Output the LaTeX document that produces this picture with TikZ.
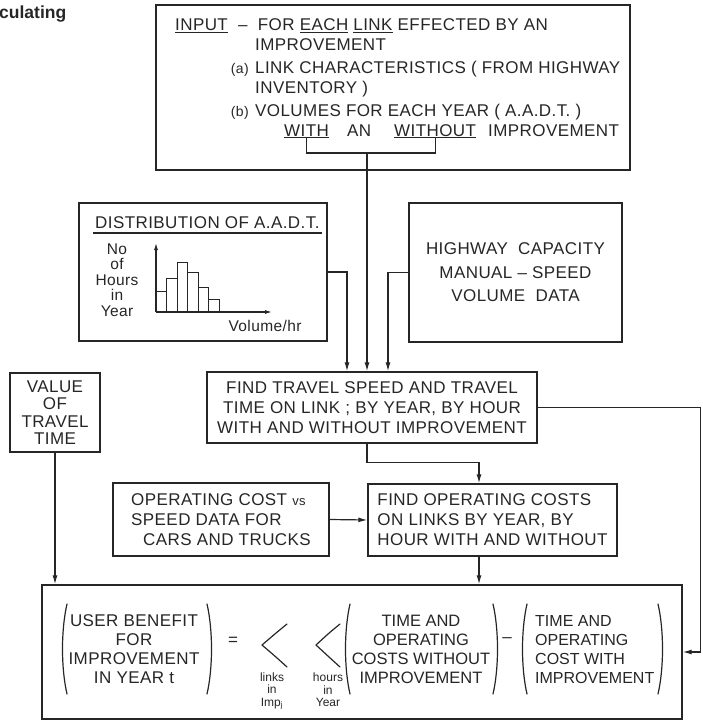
\documentclass[tikz,border=0pt]{standalone}
\usepackage{fontspec}
\setmainfont{Liberation Sans}
\newfontfamily\lettering{Liberation Sans}[LetterSpace=2.5]
\usetikzlibrary{arrows.meta,positioning,calc}
\definecolor{ink}{HTML}{262626}

\begin{document}
\begin{tikzpicture}[x=1pt,y=-1pt,
  box/.style={draw=ink,line width=1.4pt,inner sep=0pt},
  caps/.style={text=ink,font=\lettering\fontsize{17}{20}\selectfont,
    inner sep=0pt},
  sublabel/.style={text=ink,font=\lettering\fontsize{15.5}{15.5}\selectfont,
    inner sep=0pt,align=center},
  idx/.style={text=ink,font=\fontsize{12}{12.5}\selectfont,inner sep=0pt,
    align=center},
  link/.style={draw=ink,line width=1.2pt},
  flow/.style={draw=ink,line width=1.2pt,-{Latex[length=9pt,width=5pt]}},
  axis/.style={draw=ink,line width=1.1pt,-{Latex[length=7pt,width=4pt]}},
  stroke/.style={draw=ink,line width=1.2pt,line cap=round,line join=round}
]
  \useasboundingbox (0,0) rectangle (702,725);

  \node[font=\fontsize{17.5}{20}\bfseries\selectfont,text=ink,inner sep=0pt,
    anchor=base west] (capfrag) at (-1,19) {culating};

  % input box
  \node[box,minimum width=474pt,minimum height=165pt] (input) at (393,87.5) {};
  \node[caps,anchor=base west] (in1) at (175,31)
    {\underline{INPUT} \ \textendash\ \ FOR \underline{EACH} \underline{LINK}
     EFFECTED BY AN};
  \node[caps,anchor=base west] (in2) at (255,51) {IMPROVEMENT};
  \node[caps,anchor=base east,font=\lettering\fontsize{14}{14}\selectfont] (ina)
    at (249,74) {(a)};
  \node[caps,anchor=base west] (in3) at (255,74)
    {LINK CHARACTERISTICS ( FROM HIGHWAY};
  \node[caps,anchor=base west] (in4) at (255,93) {INVENTORY )};
  \node[caps,anchor=base east,font=\lettering\fontsize{14}{14}\selectfont] (inb)
    at (249,116) {(b)};
  \node[caps,anchor=base west] (in5) at (255,116)
    {VOLUMES FOR EACH YEAR ( A.A.D.T. )};
  \node[caps,anchor=base west] (with) at (284,136) {\underline{WITH}};
  \node[caps,anchor=base west] (an) at (347,136) {AN};
  \node[caps,anchor=base west] (without) at (394,136) {\underline{WITHOUT}};
  \node[caps,anchor=base west] (withimp) at (488,136) {IMPROVEMENT};
  \coordinate (fork) at (367,153);
  \draw[link] (with.south) |- (fork) -| (without.south);

  % distribution of aadt
  \node[box,minimum width=248pt,minimum height=138pt] (dist) at (203,272) {};
  \node[caps,anchor=base west] (disttitle) at (95,228)
    {DISTRIBUTION OF A.A.D.T.};
  \draw[link] ($(disttitle.base west)+(-2,5)$) -- ($(disttitle.base east)+(2,5)$);
  \draw[axis] (156,312) -- (156,243);
  \draw[axis] (156,312) -- (272,312);
  \foreach \xa/\xb/\ht in {156/166/291,166/177/278,177/187/262,
      187/198/272,198/208/287,208/219/299}
    \draw[ink,line width=1pt] (\xa,312) rectangle (\xb,\ht);
  \node[sublabel] (hrs) at (117,280) {No\\of\\Hours\\in\\Year};
  \node[sublabel] (vol) at (265,326) {Volume/hr};

  % highway capacity manual
  \node[box,caps,align=center,minimum width=213pt,minimum height=139pt,
    font=\lettering\fontsize{17}{23.5}\selectfont] (hcm) at (515.5,272.5)
    {HIGHWAY \ CAPACITY\\MANUAL \textendash\ SPEED\\VOLUME \ DATA};

  % value of time
  \node[box,caps,align=center,minimum width=90pt,minimum height=79pt,
    font=\lettering\fontsize{17}{17.5}\selectfont] (value) at (55,412.5)
    {VALUE\\OF\\TRAVEL\\TIME};

  \node[box,caps,align=center,minimum width=330pt,minimum height=71pt]
    (travel) at (372,407.5)
    {FIND TRAVEL SPEED AND TRAVEL\\TIME ON LINK ; BY YEAR, BY HOUR\\
     WITH AND WITHOUT IMPROVEMENT};

  \node[box,caps,align=left,minimum width=216pt,minimum height=73pt]
    (opdata) at (221,519.5)
    {OPERATING COST {\fontsize{13}{13}\selectfont vs}\\SPEED DATA FOR\\
     \hspace*{12pt}CARS AND TRUCKS};
  \node[box,caps,align=left,minimum width=249pt,minimum height=72pt]
    (findop) at (492.5,520)
    {FIND OPERATING COSTS\\ON LINKS BY YEAR, BY\\HOUR WITH AND WITHOUT};

  % user benefit
  \node[box,minimum width=640pt,minimum height=134pt] (benefit) at (362,652) {};
  \node[caps,align=center,font=\lettering\fontsize{17}{19}\selectfont] (ubtext)
    at (134,649.5) {USER BENEFIT\\FOR\\IMPROVEMENT\\IN YEAR t};
  \node[caps] (equals) at (233,641) {=};
  \node[idx] (linksidx) at (272,691) {links\\in\\Imp\textsubscript{j}};
  \node[idx] (hoursidx) at (328,690) {hours\\in\\Year};
  \node[caps,align=center,font=\fontsize{16.5}{19}\selectfont] (costwo)
    at (421,649.5) {TIME AND\\OPERATING\\COSTS WITHOUT\\IMPROVEMENT};
  \node[caps] (minus) at (507,640) {\textendash};
  \node[caps,align=left,anchor=west,font=\fontsize{16}{19}\selectfont]
    (costw) at (535,649.5) {TIME AND\\OPERATING\\COST WITH\\IMPROVEMENT};

  \draw[stroke] (67,604) .. controls (61,630) and (61,668) .. (67,694);
  \draw[stroke] (207,604) .. controls (213,630) and (213,668) .. (207,694);
  \draw[stroke] (350,604) .. controls (344,630) and (344,668) .. (350,694);
  \draw[stroke] (493,604) .. controls (499,630) and (499,668) .. (493,694);
  \draw[stroke] (527,604) .. controls (521,630) and (521,668) .. (527,694);
  \draw[stroke] (658,604) .. controls (664,630) and (664,668) .. (658,694);
  \draw[stroke] (287,624) .. controls (276,633) .. (262,645)
    .. controls (276,657) .. (287,667);
  \draw[stroke] (340,624) .. controls (329,633) .. (316,645)
    .. controls (329,657) .. (340,667);

  % connectors
  \draw[flow] (fork) -- (fork |- travel.north);
  \draw[flow] (dist.east) -| ($(travel.north)+(-25,0)$);
  \draw[flow] (hcm.west) -| ($(travel.north)+(16,0)$);
  \draw[flow] (travel.east) -- ++(163,0) |- (benefit.east);
  \draw[flow] ($(travel.south)+(-5,0)$) -- ++(0,19)
    -| ($(findop.north)+(-13.5,0)$);
  \draw[flow] (opdata.east) -- (findop.west);
  \coordinate (drop) at ($(findop.south)+(-13.5,0)$);
  \draw[flow] (drop) -- (drop |- benefit.north);
  \draw[flow] (value.south) -- (value.south |- benefit.north);
\end{tikzpicture}
\end{document}
